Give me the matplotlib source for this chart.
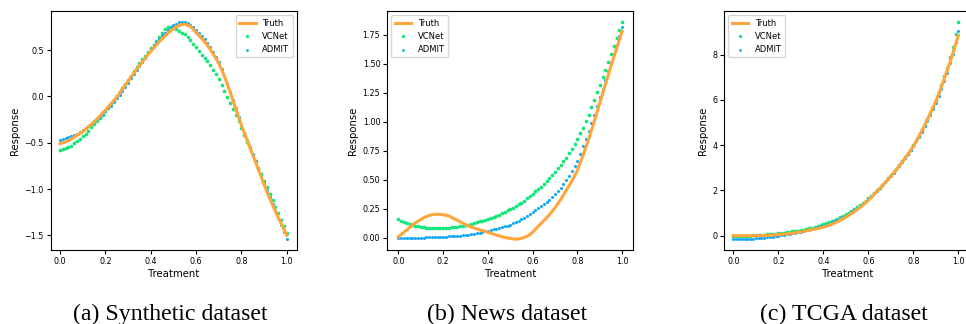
import matplotlib
matplotlib.use("Agg")
import matplotlib.pyplot as plt

# treatment grid shared by every panel
treatment = [
    0.0, 0.0125, 0.025, 0.0375, 0.05, 0.0625, 0.075, 0.0875, 0.1, 0.1125,
    0.125, 0.1375, 0.15, 0.1625, 0.175, 0.1875, 0.2, 0.2125, 0.225, 0.2375,
    0.25, 0.2625, 0.275, 0.2875, 0.3, 0.3125, 0.325, 0.3375, 0.35, 0.3625,
    0.375, 0.3875, 0.4, 0.4125, 0.425, 0.4375, 0.45, 0.4625, 0.475, 0.4875,
    0.5, 0.5125, 0.525, 0.5375, 0.55, 0.5625, 0.575, 0.5875, 0.6, 0.6125,
    0.625, 0.6375, 0.65, 0.6625, 0.675, 0.6875, 0.7, 0.7125, 0.725, 0.7375,
    0.75, 0.7625, 0.775, 0.7875, 0.8, 0.8125, 0.825, 0.8375, 0.85, 0.8625,
    0.875, 0.8875, 0.9, 0.9125, 0.925, 0.9375, 0.95, 0.9625, 0.975, 0.9875,
    1.0]

# (a) Synthetic
syn_truth = [
    -0.51, -0.50, -0.49, -0.475, -0.46, -0.44, -0.42, -0.40, -0.38, -0.355,
    -0.33, -0.30, -0.275, -0.245, -0.215, -0.18, -0.15, -0.115, -0.08, -0.045,
    -0.01, 0.035, 0.08, 0.12, 0.165, 0.21, 0.25, 0.29, 0.33, 0.37,
    0.41, 0.45, 0.485, 0.52, 0.555, 0.59, 0.62, 0.65, 0.68, 0.705,
    0.73, 0.75, 0.765, 0.775, 0.78, 0.77, 0.755, 0.725, 0.69, 0.66,
    0.625, 0.59, 0.55, 0.51, 0.46, 0.41, 0.36, 0.29, 0.22, 0.135,
    0.05, -0.04, -0.13, -0.22, -0.31, -0.39, -0.47, -0.55, -0.63, -0.71,
    -0.79, -0.87, -0.95, -1.025, -1.10, -1.17, -1.24, -1.305, -1.37, -1.435,
    -1.50]
syn_vcnet = [
    -0.58, -0.57, -0.56, -0.545, -0.53, -0.505, -0.48, -0.455, -0.43, -0.40,
    -0.37, -0.335, -0.30, -0.265, -0.23, -0.195, -0.16, -0.12, -0.08, -0.04,
    0.00, 0.045, 0.09, 0.135, 0.18, 0.225, 0.27, 0.315, 0.36, 0.40,
    0.44, 0.48, 0.52, 0.56, 0.60, 0.645, 0.69, 0.73, 0.75, 0.75,
    0.74, 0.725, 0.71, 0.69, 0.67, 0.64, 0.61, 0.57, 0.53, 0.49,
    0.45, 0.415, 0.38, 0.335, 0.29, 0.24, 0.19, 0.125, 0.06, -0.005,
    -0.07, -0.135, -0.20, -0.27, -0.34, -0.415, -0.49, -0.56, -0.63, -0.70,
    -0.77, -0.84, -0.91, -0.98, -1.05, -1.12, -1.19, -1.26, -1.33, -1.40,
    -1.47]
syn_admit = [
    -0.47, -0.46, -0.45, -0.44, -0.43, -0.415, -0.40, -0.38, -0.36, -0.34,
    -0.32, -0.295, -0.27, -0.245, -0.22, -0.19, -0.16, -0.13, -0.10, -0.06,
    -0.02, 0.02, 0.06, 0.105, 0.15, 0.195, 0.24, 0.285, 0.33, 0.375,
    0.42, 0.465, 0.51, 0.55, 0.59, 0.625, 0.66, 0.69, 0.72, 0.745,
    0.77, 0.785, 0.80, 0.805, 0.80, 0.79, 0.77, 0.745, 0.715, 0.685,
    0.65, 0.615, 0.575, 0.53, 0.48, 0.425, 0.37, 0.295, 0.22, 0.135,
    0.05, -0.04, -0.13, -0.22, -0.31, -0.39, -0.47, -0.545, -0.62, -0.70,
    -0.78, -0.855, -0.93, -1.01, -1.09, -1.165, -1.24, -1.315, -1.39, -1.465,
    -1.54]

# (b) News
news_truth = [
    0.01, 0.03, 0.05, 0.07, 0.09, 0.11, 0.13, 0.145, 0.16, 0.173,
    0.185, 0.193, 0.20, 0.203, 0.205, 0.203, 0.20, 0.196, 0.19, 0.178,
    0.165, 0.153, 0.14, 0.128, 0.115, 0.105, 0.095, 0.086, 0.078, 0.07,
    0.063, 0.056, 0.048, 0.04, 0.033, 0.025, 0.018, 0.011, 0.005, 0.0,
    -0.005, -0.008, -0.01, -0.008, -0.003, 0.005, 0.015, 0.03, 0.05, 0.075,
    0.10, 0.125, 0.15, 0.175, 0.20, 0.23, 0.26, 0.295, 0.33, 0.37,
    0.41, 0.45, 0.49, 0.535, 0.58, 0.645, 0.71, 0.78, 0.85, 0.925,
    1.00, 1.08, 1.16, 1.24, 1.32, 1.40, 1.48, 1.555, 1.63, 1.705,
    1.78]
news_vcnet = [
    0.16, 0.147, 0.135, 0.127, 0.12, 0.112, 0.105, 0.10, 0.095, 0.092,
    0.09, 0.087, 0.085, 0.085, 0.085, 0.085, 0.085, 0.087, 0.09, 0.092,
    0.095, 0.097, 0.10, 0.105, 0.11, 0.115, 0.12, 0.127, 0.135, 0.142,
    0.15, 0.157, 0.165, 0.172, 0.18, 0.19, 0.20, 0.212, 0.225, 0.237,
    0.25, 0.262, 0.275, 0.29, 0.305, 0.322, 0.34, 0.36, 0.38, 0.40,
    0.42, 0.442, 0.465, 0.49, 0.515, 0.542, 0.57, 0.60, 0.63, 0.66,
    0.69, 0.73, 0.77, 0.81, 0.85, 0.90, 0.95, 1.005, 1.06, 1.125,
    1.19, 1.255, 1.32, 1.385, 1.45, 1.515, 1.58, 1.65, 1.72, 1.79,
    1.86]
news_admit = [
    0.0, 0.0, 0.0, 0.0, 0.0, 0.001, 0.002, 0.002, 0.003, 0.004,
    0.005, 0.005, 0.006, 0.007, 0.008, 0.009, 0.01, 0.011, 0.013, 0.015,
    0.017, 0.019, 0.021, 0.023, 0.026, 0.029, 0.033, 0.037, 0.041, 0.046,
    0.051, 0.057, 0.063, 0.069, 0.075, 0.081, 0.088, 0.094, 0.10, 0.107,
    0.115, 0.125, 0.135, 0.147, 0.16, 0.175, 0.19, 0.205, 0.22, 0.237,
    0.255, 0.272, 0.29, 0.31, 0.33, 0.352, 0.375, 0.40, 0.43, 0.462,
    0.495, 0.535, 0.575, 0.62, 0.665, 0.725, 0.79, 0.855, 0.92, 0.99,
    1.06, 1.135, 1.21, 1.285, 1.36, 1.435, 1.51, 1.585, 1.66, 1.74,
    1.82]

# (c) TCGA
tcga_truth = [
    0.0, 0.0, 0.0, 0.0, 0.0, 0.0, 0.0, 0.0, 0.0, 0.002,
    0.005, 0.007, 0.01, 0.02, 0.03, 0.04, 0.05, 0.06, 0.07, 0.085,
    0.10, 0.115, 0.13, 0.15, 0.17, 0.195, 0.22, 0.245, 0.27, 0.295,
    0.32, 0.35, 0.38, 0.42, 0.46, 0.51, 0.56, 0.62, 0.68, 0.75,
    0.82, 0.90, 0.98, 1.065, 1.15, 1.25, 1.35, 1.455, 1.56, 1.69,
    1.82, 1.95, 2.08, 2.215, 2.35, 2.49, 2.63, 2.78, 2.93, 3.09,
    3.25, 3.42, 3.59, 3.77, 3.95, 4.17, 4.40, 4.64, 4.88, 5.14,
    5.40, 5.67, 5.95, 6.27, 6.60, 6.95, 7.30, 7.67, 8.05, 8.45,
    8.85]
tcga_vcnet = [
    0.0, 0.0, 0.0, 0.0, 0.0, 0.005, 0.01, 0.015, 0.02, 0.03,
    0.04, 0.05, 0.06, 0.07, 0.08, 0.095, 0.11, 0.125, 0.14, 0.155,
    0.17, 0.19, 0.21, 0.23, 0.25, 0.275, 0.30, 0.33, 0.36, 0.395,
    0.43, 0.465, 0.50, 0.545, 0.59, 0.64, 0.69, 0.75, 0.81, 0.875,
    0.94, 1.015, 1.09, 1.175, 1.26, 1.355, 1.45, 1.555, 1.66, 1.775,
    1.89, 2.01, 2.13, 2.26, 2.39, 2.53, 2.67, 2.82, 2.97, 3.13,
    3.29, 3.46, 3.63, 3.81, 4.00, 4.21, 4.42, 4.66, 4.90, 5.16,
    5.42, 5.71, 6.00, 6.34, 6.68, 7.05, 7.42, 7.88, 8.35, 8.90,
    9.45]
tcga_admit = [
    -0.15, -0.15, -0.15, -0.15, -0.14, -0.14, -0.13, -0.125, -0.12, -0.11,
    -0.10, -0.085, -0.07, -0.055, -0.04, -0.02, 0.0, 0.02, 0.04, 0.06,
    0.08, 0.105, 0.13, 0.155, 0.18, 0.21, 0.24, 0.27, 0.30, 0.335,
    0.37, 0.41, 0.45, 0.495, 0.54, 0.59, 0.64, 0.70, 0.76, 0.825,
    0.89, 0.965, 1.04, 1.125, 1.21, 1.31, 1.41, 1.52, 1.63, 1.75,
    1.87, 1.99, 2.11, 2.24, 2.37, 2.505, 2.64, 2.79, 2.94, 3.10,
    3.26, 3.43, 3.60, 3.78, 3.96, 4.165, 4.37, 4.60, 4.83, 5.08,
    5.33, 5.60, 5.88, 6.19, 6.50, 6.85, 7.20, 7.62, 8.05, 8.55,
    9.05]

captions = ["(a) Synthetic dataset", "(b) News dataset", "(c) TCGA dataset"]

TRUTH_C = "#ffa53a"
VCNET_C = "#14e67a"
ADMIT_C = "#16a9f6"

fig = plt.figure(figsize=(9.66, 3.24), dpi=100)
W, H = 966, 324

panels = [
    (syn_truth, syn_vcnet, syn_admit, 50.7, (-0.041, 1.044), "upper right"),
    (news_truth, news_vcnet, news_admit, 387.3, (-0.05, 1.05), "upper left"),
    (tcga_truth, tcga_vcnet, tcga_admit, 724.3, (-0.04, 1.053), "upper left"),
]

for i, (truth, vcnet, admit, left, xlim, loc) in enumerate(panels):
    ax = fig.add_axes([left / W, 1 - 250 / H, 246 / W, 239 / H])
    # truth line sits on top of the scattered estimates
    ax.plot(treatment, truth, color=TRUTH_C, lw=2.2, label="Truth", zorder=3)
    ax.scatter(treatment, vcnet, s=7, color=VCNET_C, label="VCNet", zorder=2, linewidths=0)
    ax.scatter(treatment, admit, s=5, color=ADMIT_C, label="ADMIT", zorder=2, linewidths=0)
    ax.set_xlim(*xlim)
    ax.set_xticks([0.0, 0.2, 0.4, 0.6, 0.8, 1.0])
    ax.tick_params(labelsize=5.8, length=3, width=0.8, pad=2)
    ax.set_xlabel("Treatment", fontsize=7.3, labelpad=2)
    ax.set_ylabel("Response", fontsize=7.3, labelpad=3)
    ax.legend(loc=loc, fontsize=6, markerscale=0.9)
    fig.text((left + 120) / W, 0.012, captions[i], ha="center", va="baseline",
             family="Liberation Serif", fontsize=17.2)

fig.savefig("out.png", dpi=100)
